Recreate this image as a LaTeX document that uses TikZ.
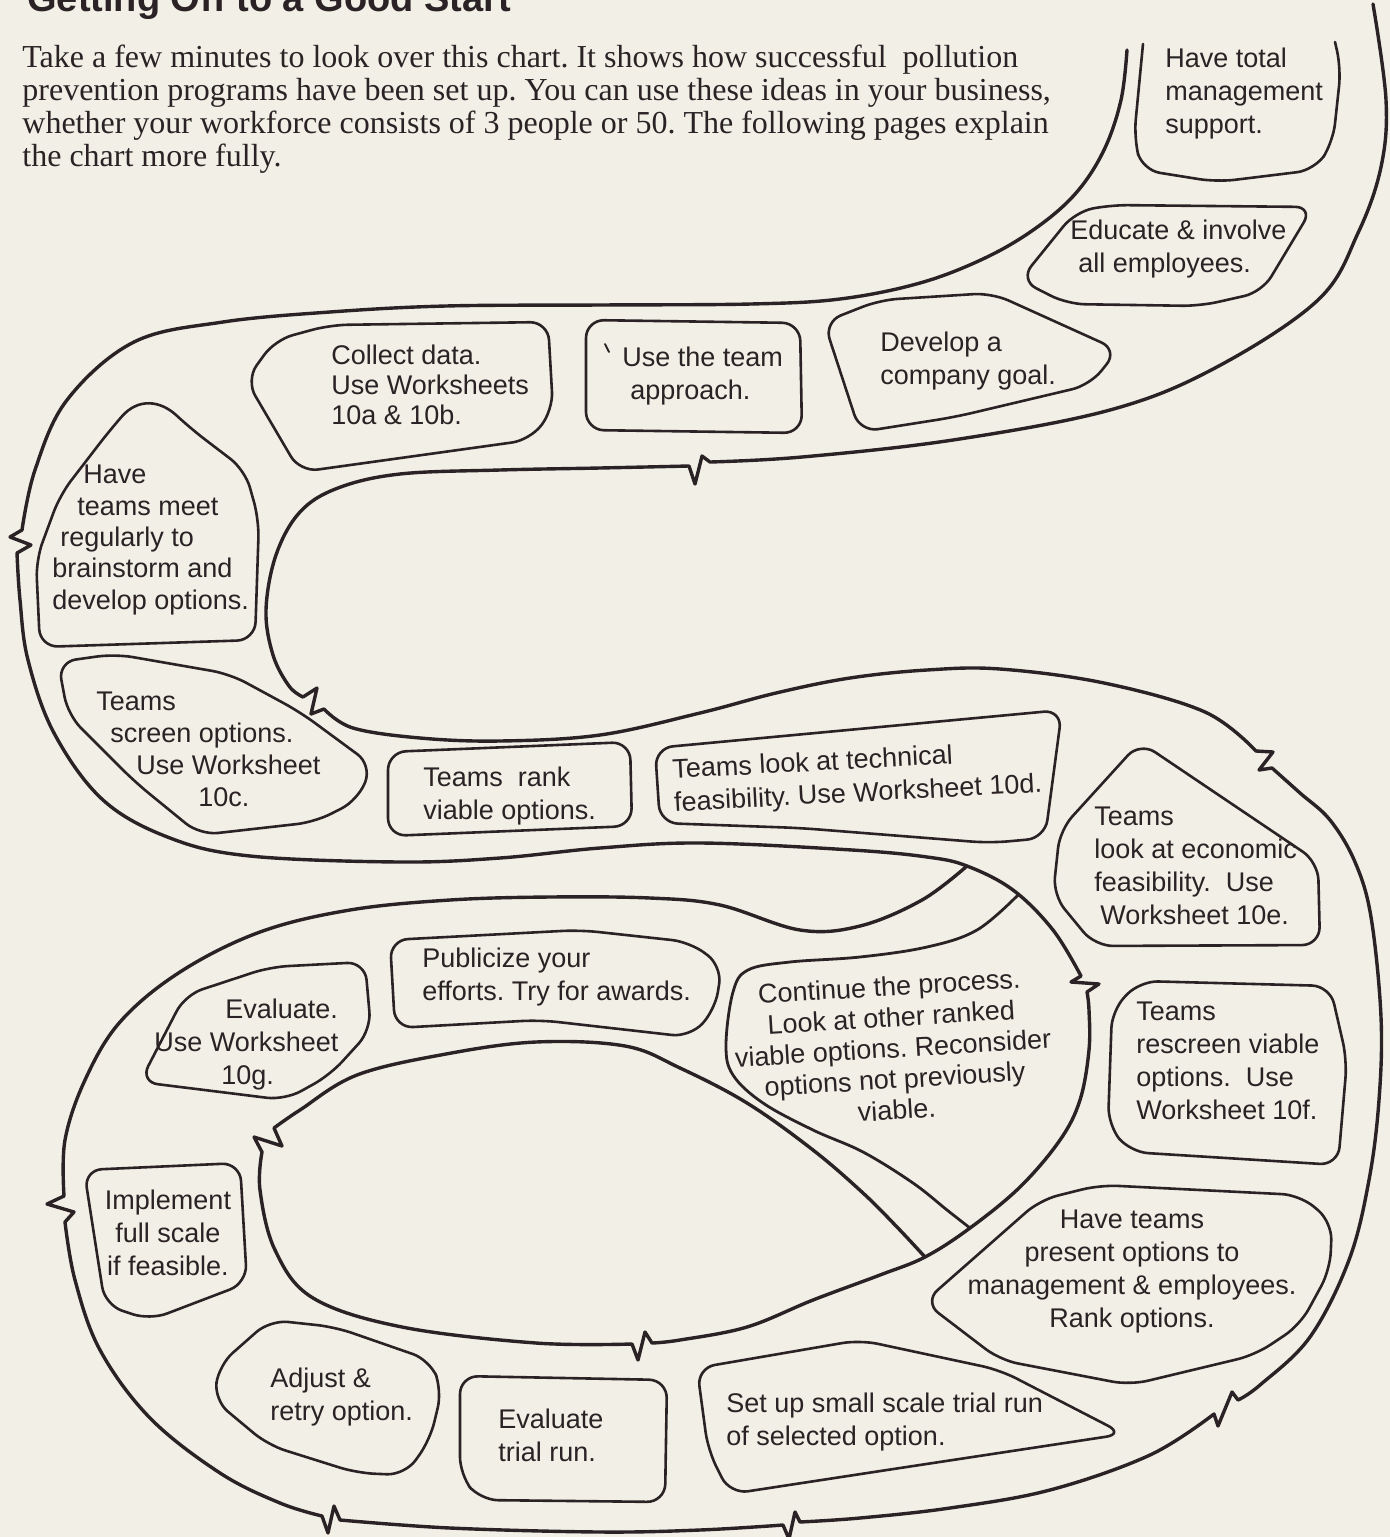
\documentclass[tikz,border=0pt]{standalone}
\usepackage{fontspec}
\setmainfont{Liberation Serif}
\newfontfamily\chartsans{Liberation Sans}
\definecolor{paper}{HTML}{F1EFE6}
\definecolor{ink}{HTML}{2A2224}
\frenchspacing

\begin{document}
\begin{tikzpicture}[x=0.5pt,y=-0.5pt,line join=round,line cap=round,
  every node/.style={text=ink,inner sep=0pt,font=\chartsans\fontsize{13.5}{16.5}\selectfont},
  track/.style={draw=ink,line width=1.7pt},
  blob/.style={draw=ink,line width=1.3pt,rounded corners=9pt},
  wob/.style={smooth,tension=0.6}]
\useasboundingbox (0,0) rectangle (1390,1537);
\clip (0,0) rectangle (1390,1537);
\fill[paper] (0,0) rectangle (1390,1537);

\node[anchor=base west,font=\chartsans\bfseries\fontsize{19}{22}\selectfont] (title) at (27,11) {Getting Off to a Good Start};
\node[anchor=west,align=left,font=\rmfamily\fontsize{16}{16.4}\selectfont] (intro) at (22,109) {Take a few minutes to look over this chart. It shows how successful\ \ pollution\\prevention programs have been set up. You can use these ideas in your business,\\whether your workforce consists of 3 people or 50. The following pages explain\\the chart more fully.};

\draw[track] plot[wob] coordinates {(1373,4) (1386,100) (1381,167) (1358,233) (1318,300) (1215,368) (1110,410) (953,440) (802,457) (710,462)}
  -- (702,456) -- (695,484) -- (689,466)
  -- plot[wob] coordinates {(689,466) (600,468) (500,470) (400,474) (338,488) (300,512) (276,555) (266,610) (273,655) (289,686) (303,697)}
  -- (317,688) -- (311,714) -- (324,709)
  -- plot[wob] coordinates {(324,709) (353,728) (420,738) (500,741) (600,735) (700,713) (776,693) (850,678) (927,670) (1000,669) (1104,683) (1205,712) (1256,751)}
  -- (1273,752) -- (1259,770) -- (1272,768)
  -- plot[wob] coordinates {(1272,768) (1300,793) (1330,820) (1355,862) (1371,917) (1381,1017) (1379,1100) (1369,1180) (1349,1260) (1310,1337) (1260,1385) (1238,1400)}
  -- (1232,1392) -- (1218,1426) -- (1214,1414)
  -- plot[wob] coordinates {(1214,1414) (1150,1455) (1050,1490) (950,1508) (860,1518) (800,1522)}
  -- (795,1512) -- (789,1539) -- (783,1525)
  -- plot[wob] coordinates {(783,1525) (700,1530) (600,1532) (450,1528) (340,1520)}
  -- (334,1506) -- (328,1533) -- (322,1516)
  -- plot[wob] coordinates {(322,1516) (280,1503) (220,1473) (150,1418) (100,1350) (75,1280) (65,1222)}
  -- (74,1212) -- (47,1204) -- (64,1196)
  -- plot[wob] coordinates {(64,1196) (65,1140) (85,1080) (120,1022) (180,972) (260,932) (350,910) (450,900) (550,897) (650,898) (720,905) (800,930) (860,926) (922,900) (967,866)};
\draw[track] plot[wob] coordinates {(1127,50) (1121,100) (1104,150) (1076,193) (1036,228) (985,258) (920,283) (840,299) (751,304) (600,305) (446,306) (330,312) (223,322) (134,342) (67,400) (35,470) (22,530)}
  -- (10,537) -- (31,545) -- (17,553)
  -- plot[wob] coordinates {(17,553) (20,600) (28,660) (54,733) (103,800) (170,838) (250,856) (400,862) (500,858) (600,848) (701,843) (852,850) (927,857) (967,866) (1013,890) (1053,930) (1081,976)}
  -- (1071,982) -- (1099,984) -- (1087,992)
  -- plot[wob] coordinates {(1087,992) (1089,1010) (1089,1050) (1080,1100) (1060,1140) (1020,1187) (970,1228) (925,1257) (880,1275) (813,1300) (747,1327) (680,1340) (652,1343)}
  -- (645,1332) -- (638,1360) -- (632,1344)
  -- plot[wob] coordinates {(632,1344) (536,1343) (402,1327) (313,1298) (275,1250) (260,1190) (262,1152)}
  -- (254,1137) -- (282,1146) -- (274,1128)
  -- plot[wob] coordinates {(274,1128) (300,1110) (357,1075) (446,1054) (536,1042) (625,1046) (680,1068) (747,1103) (813,1150) (863,1193) (897,1227) (925,1257)};
\draw[track,line width=1.4pt] plot[wob] coordinates {(1018,895) (977,930) (927,947) (860,957) (790,962) (748,970) (733,992) (726,1045) (733,1075) (763,1103) (813,1130) (863,1152) (913,1183) (947,1210) (970,1228)};

\draw[blob] (1143,44) -- (1134,138) -- (1142,170) -- (1217,182) -- (1315,170) -- (1333,142) -- (1341,68) -- (1335,42);
\draw[blob] (1075,212) -- (1110,205) -- (1313,207) -- (1262,292) -- (1200,306) -- (1067,304) -- (1020,280) -- cycle;
\draw[blob] (824,322) -- (880,300) -- (992,293) -- (1118,350) -- (1090,385) -- (955,417) -- (860,432) -- cycle;
\draw[blob] (586,320) -- (800,323) -- (802,433) -- (586,430) -- cycle;
\draw[blob] (246,380) -- (275,340) -- (330,325) -- (548,322) -- (553,410) -- (530,440) -- (300,472) -- cycle;
\draw[blob] (36,560) -- (60,495) -- (110,430) .. controls (138,398) and (160,400) .. (190,428) -- (245,470) -- (259,520) -- (255,640) -- (40,647) -- cycle;
\draw[blob] (58,662) -- (115,654) -- (230,674) -- (300,712) -- (372,765) -- (358,800) -- (315,822) -- (200,835) -- (135,782) -- (68,715) -- cycle;
\draw[blob] (388,752) -- (630,742) -- (632,826) -- (388,836) -- cycle;
\draw[blob] (655,748) -- (1062,710) -- (1045,838) -- (990,843) -- (800,828) -- (660,823) -- cycle;
\draw[blob] (1140,742) -- (1318,862) -- (1320,945) -- (1095,946) -- (1053,895) -- (1060,830) -- cycle;
\draw[blob] (1112,1010) -- (1140,981) -- (1330,986) -- (1347,1060) -- (1338,1165) -- (1130,1152) -- (1108,1125) -- cycle;
\draw[blob] (1040,1200) -- (1100,1185) -- (1300,1195) -- (1332,1222) -- (1330,1270) -- (1300,1325) -- (1255,1355) -- (1130,1385) -- (1000,1360) -- (924,1302) -- cycle;
\draw[blob] (697,1368) -- (860,1340) -- (1000,1370) -- (1124,1434) -- (900,1468) -- (730,1494) -- (708,1450) -- cycle;
\draw[blob] (460,1376) -- (667,1380) -- (665,1502) -- (480,1500) -- (460,1475) -- cycle;
\draw[blob] (219,1365) -- (270,1320) -- (335,1327) -- (430,1360) -- (442,1390) -- (430,1440) -- (405,1475) -- (357,1473) -- (268,1445) -- (214,1400) -- cycle;
\draw[blob] (84,1170) -- (240,1163) -- (247,1283) -- (150,1320) -- (105,1305) -- cycle;
\draw[blob] (185,995) -- (270,967) -- (365,962) -- (371,1030) -- (330,1075) -- (285,1100) -- (140,1082) -- cycle;
\draw[blob] (390,940) -- (580,930) -- (690,942) -- (722,966) -- (715,1010) -- (690,1037) -- (540,1020) -- (395,1028) -- cycle;
\draw[ink,line width=0.9pt] (605,344) -- (609,352);

\node[anchor=west,align=left] (support) at (1165,94) {Have total\\management\\support.};
\node[anchor=west,align=left] (educate) at (1070,249) {Educate \& involve\\\hspace*{4pt}all employees.};
\node[anchor=west,align=left] (goal) at (880,361) {Develop a\\company goal.};
\node[anchor=west,align=left] (team) at (622,376) {Use the team\\\hspace*{4pt}approach.};
\node[anchor=west,align=left,font=\chartsans\fontsize{13.5}{15}\selectfont] (data) at (331,385) {Collect data.\\Use Worksheets\\10a \& 10b.};
\node[anchor=west,align=left,font=\chartsans\fontsize{13.5}{15.7}\selectfont] (meet) at (52,540) {\hspace*{15.5pt}Have\\\hspace*{12.5pt}teams meet\\\hspace*{4pt}regularly to\\brainstorm and\\develop options.};
\node[anchor=west,align=left,font=\chartsans\fontsize{13.5}{16}\selectfont] (screen) at (96,749) {Teams\\\hspace*{7pt}screen options.\\\hspace*{20pt}Use Worksheet\\\hspace*{51pt}10c.};
\node[anchor=west,align=left] (rank) at (423,796) {Teams\ \ rank\\viable options.};
\node[anchor=west,align=left,rotate=3] (technical) at (673,788) {Teams look at technical\\feasibility. Use Worksheet 10d.};
\node[anchor=west,align=left] (economic) at (1094,866) {Teams\\look at economic\\feasibility.\ \ Use\\\hspace*{3pt}Worksheet 10e.};
\node[anchor=west,align=left] (rescreen) at (1136,1061) {Teams\\rescreen viable\\options.\ \ Use\\Worksheet 10f.};
\node[align=center] (present) at (1132,1271) {Have teams\\present options to\\management \& employees.\\Rank options.};
\node[anchor=west,align=left] (trial) at (726,1422) {Set up small scale trial run\\of selected option.};
\node[anchor=west,align=left] (evaltrial) at (498,1435) {Evaluate\\trial run.};
\node[anchor=west,align=left] (adjust) at (270,1397) {Adjust \&\\retry option.};
\node[align=center] (implement) at (168,1233) {Implement\\full scale\\if feasible.};
\node[anchor=west,align=left] (evaluate) at (154,1045) {\hspace*{35.5pt}Evaluate.\\Use Worksheet\\\hspace*{33.5pt}10g.};
\node[anchor=west,align=left] (publicize) at (422,977) {Publicize your\\efforts. Try for awards.};
\node[align=center,rotate=3.5,font=\chartsans\fontsize{13.5}{15.5}\selectfont] (continue) at (893,1048) {Continue the process.\\Look at other ranked\\viable options. Reconsider\\options not previously\\viable.};
\end{tikzpicture}
\end{document}
